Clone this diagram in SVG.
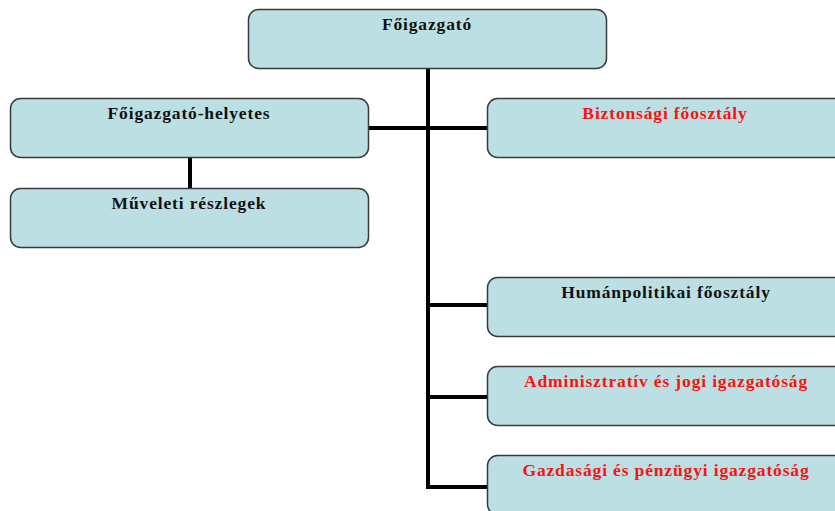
<svg xmlns="http://www.w3.org/2000/svg" width="835" height="511" viewBox="0 0 835 511">
<style>
.box{fill:#bbdfe3;stroke:#3a3a3a;stroke-width:1.5}
.t{font-family:"Liberation Serif","Times New Roman",serif;font-weight:bold;font-size:17.5px;text-anchor:middle;fill:#111;letter-spacing:0.85px}
.r{fill:#ff1010}
.c{stroke:#000;stroke-width:4;fill:none}
</style>
<rect width="835" height="511" fill="#fff"/>
<g id="connectors">
<path class="c" d="M428 69 V487 H487"/>
<path class="c" d="M368 128 H487"/>
<path class="c" d="M428 305 H487"/>
<path class="c" d="M428 397 H487"/>
<path class="c" d="M190 158 V188"/>
</g>
<g id="foigazgato"><rect class="box" x="248.5" y="9.5" width="358" height="59" rx="10"/><text class="t" x="427" y="30">Főigazgató</text></g>
<g id="helyettes"><rect class="box" x="10.5" y="98.5" width="358" height="59" rx="10"/><text class="t" x="189" y="119">Főigazgató-helyetes</text></g>
<g id="muveleti"><rect class="box" x="10.5" y="188.5" width="358" height="59" rx="10"/><text class="t" x="189" y="209">Műveleti részlegek</text></g>
<g id="biztonsagi"><rect class="box" x="487.5" y="98.5" width="358" height="59" rx="10"/><text class="t r" x="665" y="119">Biztonsági főosztály</text></g>
<g id="human"><rect class="box" x="487.5" y="277.5" width="358" height="59" rx="10"/><text class="t" x="666" y="298">Humánpolitikai főosztály</text></g>
<g id="admin"><rect class="box" x="487.5" y="366.5" width="358" height="59" rx="10"/><text class="t r" x="666" y="387">Adminisztratív és jogi igazgatóság</text></g>
<g id="gazdasagi"><rect class="box" x="487.5" y="455.5" width="358" height="59" rx="10"/><text class="t r" x="666" y="476">Gazdasági és pénzügyi igazgatóság</text></g>
</svg>
